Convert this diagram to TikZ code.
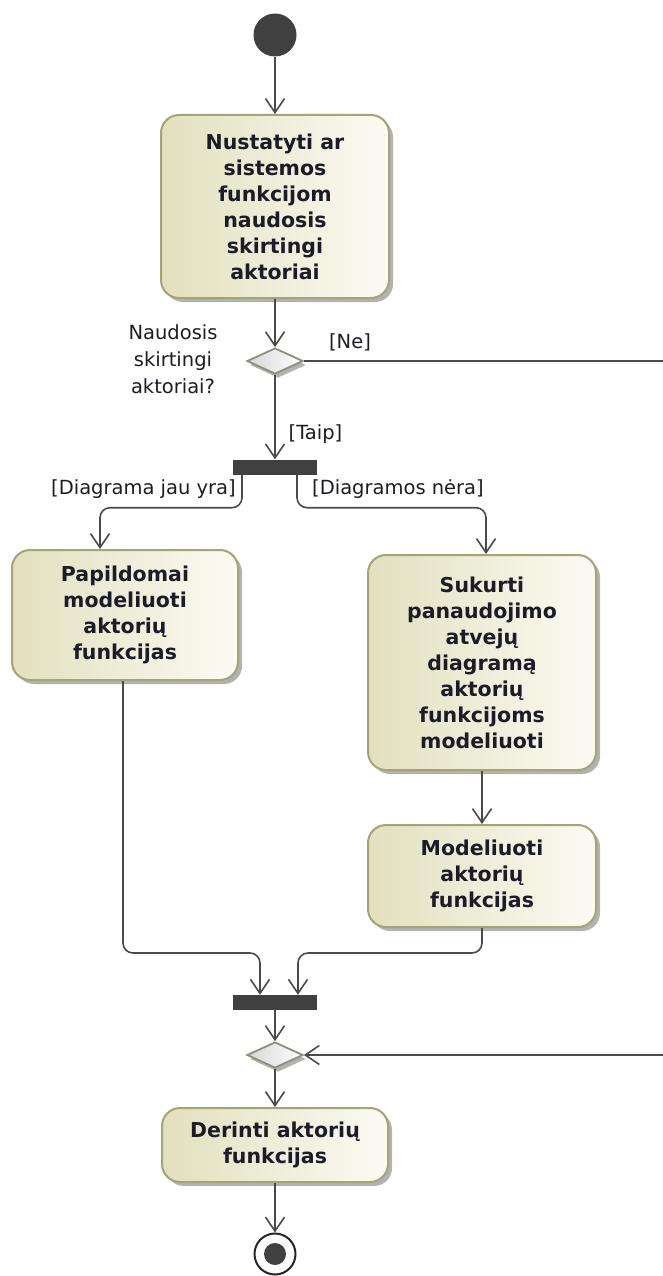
\documentclass[tikz,border=0pt]{standalone}
\usepackage{fontspec}
\setmainfont{DejaVu Sans}
\usetikzlibrary{arrows.meta,shapes.geometric,shadows}

\definecolor{edgeC}{HTML}{4A4A4A}
\definecolor{boxBorder}{HTML}{A4A474}
\definecolor{boxDark}{HTML}{E2E0BE}
\definecolor{boxLight}{HTML}{FBFBF4}
\definecolor{txtC}{HTML}{1C1C28}
\definecolor{decBorder}{HTML}{8E8E7A}
\definecolor{barC}{HTML}{404040}

\tikzset{
  x=1pt, y=-1pt,
  >={Straight Barb[length=14pt,width=19pt]},
  flow/.style={draw=edgeC, line width=1.6pt, rounded corners=10pt},
  action/.style={draw=boxBorder, line width=2pt, rounded corners=18pt,
    left color=boxDark, right color=boxLight,
    drop shadow={shadow xshift=4pt, shadow yshift=-4pt, opacity=0.3, fill=black},
    inner sep=0pt, align=center, text=txtC,
    font=\fontsize{20.5}{26}\selectfont\bfseries},
  decision/.style={diamond, draw=decBorder, line width=1.8pt,
    left color=black!16, right color=white,
    drop shadow={shadow xshift=3pt, shadow yshift=-4pt, opacity=0.3, fill=black},
    minimum width=56pt, minimum height=26pt, inner sep=0pt, aspect=2.2},
  bar/.style={fill=barC, inner sep=0pt, minimum width=84pt, minimum height=15pt},
  guard/.style={text=txtC, font=\fontsize{19.5}{27}\selectfont, inner sep=0pt, align=center},
}

\begin{document}
\begin{tikzpicture}
\useasboundingbox (0,0) rectangle (663,1276);

% start / end
\node[circle, fill=barC, minimum size=43pt, inner sep=0pt] (start) at (275,35) {};
\node[circle, draw=black!85, line width=2pt, fill=white, minimum size=41pt, inner sep=0pt] (final) at (275,1254) {};
\node[circle, fill=barC, minimum size=22pt, inner sep=0pt] at (final) {};

% actions
\node[action, minimum width=228pt, minimum height=183pt] (check) at (275,206.5)
  {Nustatyti ar\\sistemos\\funkcijom\\naudosis\\skirtingi\\aktoriai};
\node[action, minimum width=226pt, minimum height=130pt] (extra) at (125,615)
  {Papildomai\\modeliuoti\\aktorių\\funkcijas};
\node[action, minimum width=228pt, minimum height=215pt] (create) at (482,662.5)
  {Sukurti\\panaudojimo\\atvejų\\diagramą\\aktorių\\funkcijoms\\modeliuoti};
\node[action, minimum width=228pt, minimum height=102pt] (model) at (482,876)
  {Modeliuoti\\aktorių\\funkcijas};
\node[action, minimum width=226pt, minimum height=74pt] (agree) at (275,1145)
  {Derinti aktorių\\funkcijas};

% control nodes
\node[decision] (dec) at (275,361) {};
\node[bar] (fork) at (275,467) {};
\node[bar] (join) at (275,1002.5) {};
\node[decision] (merge) at (275,1055) {};

% free ends at the right margin
\coordinate (outNe) at (663,361);
\coordinate (backIn) at (663,1055);

% labels
\node[guard] (qlbl) at (173,359) {Naudosis\\skirtingi\\aktoriai?};
\node[guard] (neLbl) at (350,342) {[Ne]};
\node[guard] (taipLbl) at (315.5,434) {[Taip]};
\node[guard] (yraLbl) at (143.5,489) {[Diagrama jau yra]};
\node[guard] (neraLbl) at (398,489) {[Diagramos nėra]};

% connectors
\draw[flow,->] (start) -- (check.north);
\draw[flow,->] (check.south) -- (dec.north);
\draw[flow] (dec.east) -- (outNe);
\draw[flow,->] (dec.south) -- (fork.north);
\draw[flow,->] ([xshift=-33pt]fork.south) -- ++(0,33) -| ([xshift=-25pt]extra.north);
\draw[flow,->] ([xshift=22pt]fork.south) -- ++(0,33) -| ([xshift=4pt]create.north);
\draw[flow,->] (create.south) -- (model.north);
\draw[flow,->] ([xshift=-2pt]extra.south) -- ++(0,272) -| ([xshift=-15pt]join.north);
\draw[flow,->] (model.south) -- ++(0,25) -| ([xshift=23pt]join.north);
\draw[flow,->] (join.south) -- (merge.north);
\draw[flow,->] (backIn) -- (merge.east);
\draw[flow,->] (merge.south) -- (agree.north);
\draw[flow,->] (agree.south) -- (final.north);
\end{tikzpicture}
\end{document}
